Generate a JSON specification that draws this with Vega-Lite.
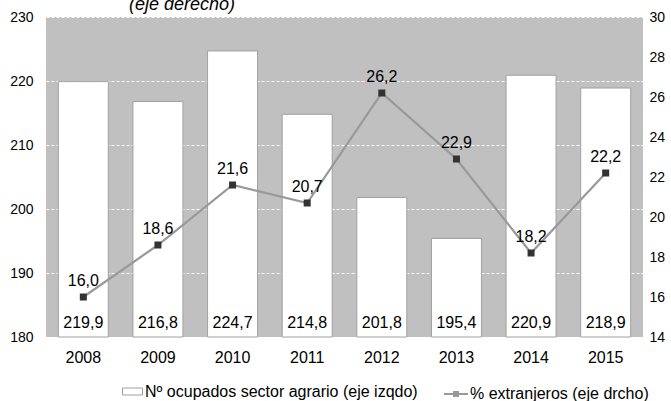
{
  "$schema": "https://vega.github.io/schema/vega-lite/v6.json",
  "width": 597,
  "height": 320,
  "autosize": "none",
  "padding": {"left": 46, "top": 17, "right": 28, "bottom": 64},
  "title": {"text": "(eje derecho)", "anchor": "start", "frame": "group", "dx": 83, "offset": -18, "baseline": "alphabetic", "fontSize": 18, "fontStyle": "italic", "fontWeight": "normal", "font": "Liberation Sans", "color": "#000000"},
  "config": {
    "font": "Liberation Sans",
    "locale": {"number": {"decimal": ",", "thousands": ".", "grouping": [3], "currency": ["", " €"]}},
    "view": {"fill": "#c0c0c0", "stroke": null},
    "axis": {"domain": false, "ticks": false, "labelFont": "Liberation Sans", "labelColor": "#000000", "title": null}
  },
  "data": {"values": [
    {"year": "2008", "ocupados": 219.9, "extranjeros": 16.0},
    {"year": "2009", "ocupados": 216.8, "extranjeros": 18.6},
    {"year": "2010", "ocupados": 224.7, "extranjeros": 21.6},
    {"year": "2011", "ocupados": 214.8, "extranjeros": 20.7},
    {"year": "2012", "ocupados": 201.8, "extranjeros": 26.2},
    {"year": "2013", "ocupados": 195.4, "extranjeros": 22.9},
    {"year": "2014", "ocupados": 220.9, "extranjeros": 18.2},
    {"year": "2015", "ocupados": 218.9, "extranjeros": 22.2}
  ]},
  "encoding": {
    "x": {"field": "year", "type": "nominal", "scale": {"paddingInner": 0.33, "paddingOuter": 0.165}, "axis": {"labelAngle": 0, "labelFontSize": 16, "labelPadding": 12, "grid": false}}
  },
  "layer": [
    {
      "encoding": {
        "y": {"field": "ocupados", "type": "quantitative", "scale": {"domain": [180, 230], "zero": false, "nice": false}, "axis": {"orient": "left", "values": [180, 190, 200, 210, 220, 230], "labelFontSize": 14, "labelPadding": 13, "grid": true, "gridColor": "#ffffff", "gridDash": [3, 2], "gridWidth": 1, "gridOpacity": 1}}
      },
      "layer": [
        {
          "mark": {"type": "bar", "stroke": "#a0a0a0", "strokeWidth": 1},
          "encoding": {
            "y2": {"datum": 180},
            "fill": {"datum": "Nº ocupados sector agrario (eje izqdo)", "type": "nominal", "scale": {"range": ["#ffffff"]}, "legend": {"title": null, "orient": "none", "legendX": 76, "legendY": 364, "symbolType": "M-1,-0.35H1V0.35H-1Z", "symbolStrokeColor": "#a0a0a0", "symbolStrokeWidth": 1, "symbolSize": 400, "labelFontSize": 16, "labelOffset": 2, "labelLimit": 0, "labelColor": "#000000"}}
          }
        },
        {
          "mark": {"type": "text", "fontSize": 16, "dy": -14, "color": "#000000"},
          "encoding": {
            "y": {"datum": 180},
            "text": {"field": "ocupados", "type": "quantitative", "format": ".1f"}
          }
        }
      ]
    },
    {
      "encoding": {
        "y": {"field": "extranjeros", "type": "quantitative", "scale": {"domain": [14, 30], "zero": false, "nice": false}, "axis": {"orient": "right", "values": [14, 16, 18, 20, 22, 24, 26, 28, 30], "labelFontSize": 14, "labelPadding": 6, "grid": false}}
      },
      "layer": [
        {
          "mark": {"type": "line", "strokeWidth": 2.2},
          "encoding": {
            "stroke": {"datum": "% extranjeros (eje drcho)", "type": "nominal", "scale": {"range": ["#999999"]}, "legend": {"title": null, "orient": "none", "legendX": 397, "legendY": 364, "symbolType": "M-1,0H1M-0.17,-0.17H0.17V0.17H-0.17Z", "symbolFillColor": "#333333", "symbolStrokeWidth": 2, "symbolSize": 576, "labelFontSize": 16, "labelOffset": 1, "labelLimit": 0, "labelColor": "#000000"}}
          }
        },
        {
          "mark": {"type": "square", "size": 49, "color": "#333333", "opacity": 1, "filled": true}
        },
        {
          "mark": {"type": "text", "fontSize": 16, "dy": -16, "color": "#000000"},
          "encoding": {
            "text": {"field": "extranjeros", "type": "quantitative", "format": ".1f"}
          }
        }
      ]
    }
  ],
  "resolve": {"scale": {"y": "independent", "fill": "independent", "stroke": "independent"}}
}
